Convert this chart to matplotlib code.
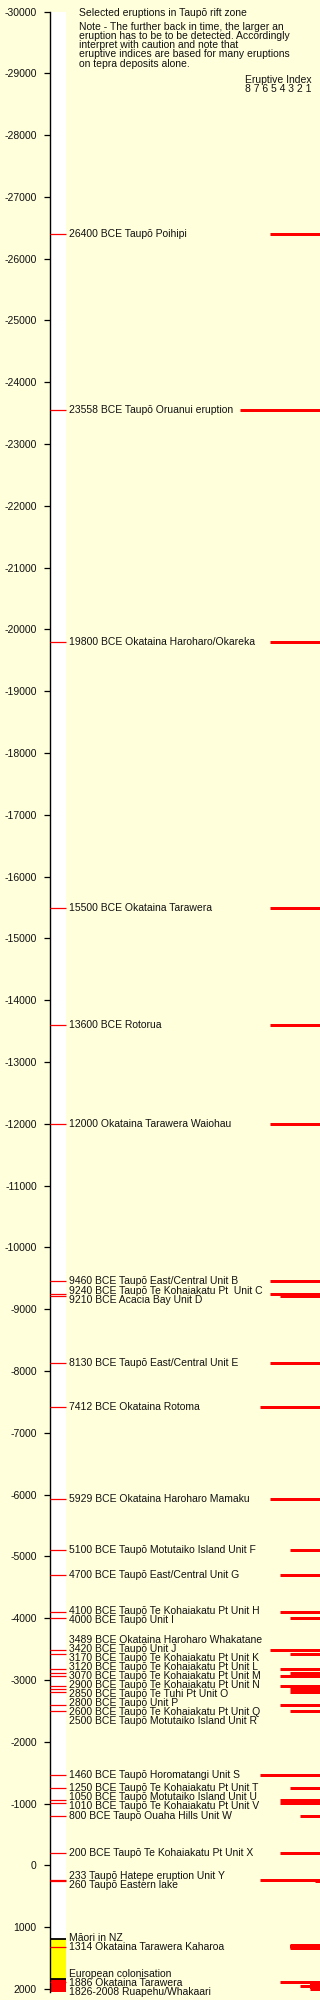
import matplotlib
matplotlib.use("Agg")
import matplotlib.pyplot as plt
from matplotlib.patches import Rectangle

plt.rcParams['axes.unicode_minus'] = False
FONT = ['Liberation Sans', 'DejaVu Sans']
plt.rcParams['font.family'] = FONT

# ---------------- data ----------------
event_years = [-26400, -23558, -19800, -15500, -13600, -12000, -9460, -9240, -9210, -8130,
               -7412, -5929, -5100, -4700, -4100, -4000, -3489, -3420, -3170, -3120,
               -3070, -2900, -2850, -2800, -2600, -2500, -1460, -1250, -1050, -1010,
               -800, -200, 233, 260, 1314, 1886]
event_labels = [
    "26400 BCE Taupō Poihipi",
    "23558 BCE Taupō Oruanui eruption",
    "19800 BCE Okataina Haroharo/Okareka",
    "15500 BCE Okataina Tarawera",
    "13600 BCE Rotorua",
    "12000 Okataina Tarawera Waiohau",
    "9460 BCE Taupō East/Central Unit B",
    "9240 BCE Taupō Te Kohaiakatu Pt  Unit C",
    "9210 BCE Acacia Bay Unit D",
    "8130 BCE Taupō East/Central Unit E",
    "7412 BCE Okataina Rotoma",
    "5929 BCE Okataina Haroharo Mamaku",
    "5100 BCE Taupō Motutaiko Island Unit F",
    "4700 BCE Taupō East/Central Unit G",
    "4100 BCE Taupō Te Kohaiakatu Pt Unit H",
    "4000 BCE Taupō Unit I",
    "3489 BCE Okataina Haroharo Whakatane",
    "3420 BCE Taupō Unit J",
    "3170 BCE Taupō Te Kohaiakatu Pt Unit K",
    "3120 BCE Taupō Te Kohaiakatu Pt Unit L",
    "3070 BCE Taupō Te Kohaiakatu Pt Unit M",
    "2900 BCE Taupō Te Kohaiakatu Pt Unit N",
    "2850 BCE Taupō Te Tuhi Pt Unit O",
    "2800 BCE Taupō Unit P",
    "2600 BCE Taupō Te Kohaiakatu Pt Unit Q",
    "2500 BCE Taupō Motutaiko Island Unit R",
    "1460 BCE Taupō Horomatangi Unit S",
    "1250 BCE Taupō Te Kohaiakatu Pt Unit T",
    "1050 BCE Taupō Motutaiko Island Unit U",
    "1010 BCE Taupō Te Kohaiakatu Pt Unit V",
    "800 BCE Taupō Ouaha Hills Unit W",
    "200 BCE Taupō Te Kohaiakatu Pt Unit X",
    "233 Taupō Hatepe eruption Unit Y",
    "260 Taupō Eastern lake",
    "1314 Okataina Tarawera Kaharoa",
    "1886 Okataina Tarawera",
]
event_vei = [5, 8, 5, 5, 5, 5, 5, 5, 4, 5,
             6, 5, 3, 4, 4, 3, 5, 3, 4, 3,
             4, 4, 3, 3, 4, 3, 6, 3, 4, 4,
             2, 4, 6, 0.5, 3, 4]

# Extended eruption periods (drawn as blocks)
span_start = [1290, 1895]
span_end = [1340, 2008]
span_vei = [3, 1]
# Extra single bar
extra_years = [1945]
extra_vei = [2]

# Recent multi-eruption label
recent_label = "1826-2008 Ruapehu/Whakaari"
recent_from, recent_to = 1826, 2008

# Eras
era_names = ["Māori in NZ", "European colonisation"]
era_start = [1200, 1840]
era_end = [1840, 2050]
era_colors = ["#ffff00", "#ff0000"]

title = "Selected eruptions in Taupō rift zone"
note_lines = ["Note - The further back in time, the larger an",
              "eruption has to be to be detected. Accordingly",
              "interpret with caution and note that",
              "eruptive indices are based for many eruptions",
              "on tepra deposits alone."]
index_title = "Eruptive Index"
index_digits = "8 7 6 5 4 3 2 1"

y_from, y_to = -30000, 2050
ticks = list(range(-30000, 2001, 1000))

# ---------------- style ----------------
BG = "#ffffdc"
RED = "#ff0000"
FS = 7.5
W, H = 320, 2000
ax_left, ax_top, ax_bot = 50, 11.5, 1992
band_w = 16
bar_unit = 10
px = 0.72  # points per pixel at dpi 100

fig = plt.figure(figsize=(W / 100, H / 100), dpi=100, facecolor=BG)
ax = fig.add_axes([ax_left / W, 1 - ax_bot / H, (W - ax_left) / W, (ax_bot - ax_top) / H])
ax.set_facecolor(BG)
xmax = W - ax_left
ax.set_xlim(0, xmax)
ax.set_ylim(y_to, y_from)
for s in ['top', 'right', 'bottom']:
    ax.spines[s].set_visible(False)
ax.spines['left'].set_linewidth(1.0)
ax.set_xticks([])
ax.set_yticks(ticks)
ax.set_yticklabels([str(t) for t in ticks], fontsize=FS, family=FONT, color="#111111")
ax.tick_params(axis='y', length=4.5, width=0.9, pad=5)

# white band
ax.add_patch(Rectangle((0, y_from), band_w, y_to - y_from, facecolor='white', edgecolor='none', zorder=1))
# eras
for s, e, c in zip(era_start, era_end, era_colors):
    ax.add_patch(Rectangle((0, s), band_w, e - s, facecolor=c, edgecolor='none', zorder=2))
ax.hlines(era_start, 0, band_w, color='black', lw=1.3, zorder=4)

# event ticks in band
ax.hlines(event_years, 0, band_w, color=RED, lw=0.9, zorder=3)

# eruptive index bars
bar_lw = 3 * px
for y, v in zip(event_years + extra_years, event_vei + extra_vei):
    ax.hlines(y, xmax - bar_unit * v, xmax, color=RED, lw=bar_lw, zorder=3)
for s, e, v in zip(span_start, span_end, span_vei):
    x0 = xmax - bar_unit * v
    ax.add_patch(Rectangle((x0, s), bar_unit * v, e - s, facecolor=RED, edgecolor='none', zorder=3))
    ax.hlines([s, e], x0, xmax, color=RED, lw=bar_lw, zorder=3)

# ---- labels with simple de-overlap stacking ----
ppy = (ax_bot - ax_top) / (y_to - y_from)
gap = 9.0 / ppy

lab_texts = event_labels + era_names + [recent_label]
lab_anchor = event_years + era_start + [recent_to]

order = sorted(range(len(lab_anchor)), key=lambda i: lab_anchor[i])
clusters = []


def cl_pos(c):
    m = sum(lab_anchor[i] for i in c) / len(c)
    start = m - gap * (len(c) - 1) / 2
    return [start + k * gap for k in range(len(c))]


for i in order:
    clusters.append([i])
    while len(clusters) > 1:
        p1 = cl_pos(clusters[-2])
        p2 = cl_pos(clusters[-1])
        if p2[0] - p1[-1] < gap:
            last = clusters.pop()
            clusters[-1] = clusters[-1] + last
        else:
            break

for c in clusters:
    for i, p in zip(c, cl_pos(c)):
        ax.text(band_w + 3, p, lab_texts[i], fontsize=FS, family=FONT, ha='left', va='center',
                color='#111111', zorder=5, clip_on=False)


# ---- header texts (figure pixel coordinates) ----
def ftext(x, y, s, **kw):
    fig.text(x / W, 1 - y / H, s, fontsize=FS, family=FONT, va='center', ha='left', color='#111111', **kw)


ftext(79, 13.3, title)
for k, line in enumerate(note_lines):
    ftext(79, 26.5 + 9.3 * k, line)
ftext(245, 80, index_title)
ftext(245, 88.5, index_digits)

fig.savefig("out.png", dpi=100, facecolor=BG)
